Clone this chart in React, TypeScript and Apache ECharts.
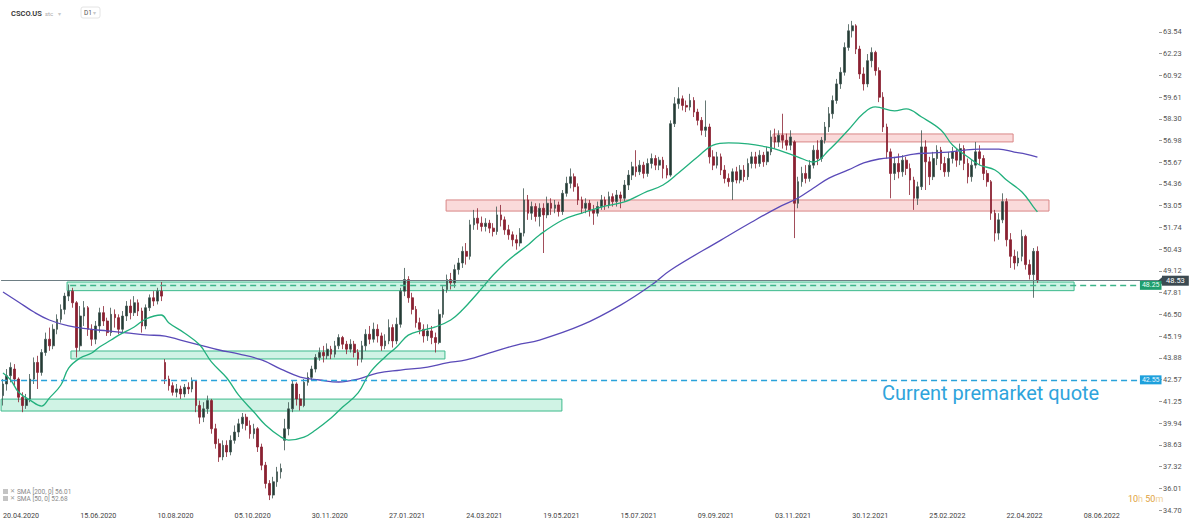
import React, { useEffect, useRef } from "react";
import * as echarts from "echarts";

// ---- data ----
const DATE_LABELS = [
  "20.04.2020", "15.06.2020", "10.08.2020", "05.10.2020", "30.11.2020",
  "27.01.2021", "24.03.2021", "19.05.2021", "15.07.2021", "09.09.2021",
  "03.11.2021", "30.12.2021", "25.02.2022", "22.04.2022", "08.06.2022",
];
const SLOT_COUNT = 300; // candle slots on the axis (incl. empty future)
const LABEL_EVERY = 20;

// [open, close, low, high]
const CANDLES: number[][] = [
  [41.6, 42.3, 41.0, 42.6], [42.3, 42.8, 41.9, 43.2], [42.8, 43.3, 42.4, 43.6], [43.2, 42.6, 42.2, 43.5],
  [42.6, 41.5, 41.2, 42.7], [41.5, 41.0, 40.6, 41.8], [41.0, 41.4, 40.8, 41.7], [41.4, 42.6, 41.2, 42.9],
  [42.6, 43.6, 42.3, 43.9], [43.6, 43.0, 42.0, 44.0], [43.0, 44.2, 42.8, 44.4], [44.2, 45.0, 44.0, 45.4],
  [45.0, 44.6, 44.3, 45.7], [44.6, 45.6, 44.4, 45.9], [45.6, 46.2, 45.3, 46.5], [46.2, 46.8, 46.0, 47.1],
  [46.8, 47.6, 46.5, 47.8], [47.6, 47.9, 47.3, 48.3], [47.9, 47.2, 46.9, 48.1], [47.2, 44.5, 43.9, 47.3],
  [44.6, 46.4, 44.3, 47.0], [46.4, 46.9, 45.8, 47.3], [46.9, 45.6, 45.2, 47.0], [45.6, 45.0, 44.6, 45.9],
  [45.0, 45.8, 44.7, 46.1], [45.8, 46.6, 45.4, 46.9], [46.6, 46.1, 45.8, 47.0], [46.1, 45.4, 45.2, 46.3],
  [45.4, 46.5, 45.2, 46.9], [46.5, 46.3, 45.7, 46.8], [46.3, 45.6, 45.3, 46.5], [45.6, 46.4, 45.4, 46.7],
  [46.4, 47.0, 46.1, 47.3], [47.0, 46.6, 46.2, 47.4], [46.6, 47.2, 46.4, 47.6], [47.2, 46.7, 46.4, 47.4],
  [46.7, 45.8, 45.4, 46.9], [45.8, 46.9, 45.6, 47.1], [46.9, 47.5, 46.7, 47.7], [47.5, 47.3, 47.0, 47.9],
  [47.3, 47.9, 47.1, 48.1], [47.9, 47.6, 47.3, 48.45], [43.6, 42.6, 42.3, 43.8], [42.6, 42.2, 41.9, 42.8],
  [42.2, 41.8, 41.6, 42.4], [41.8, 42.0, 41.5, 42.3], [42.0, 41.7, 41.4, 42.2], [41.7, 42.1, 41.5, 42.3],
  [42.1, 42.0, 41.7, 42.4], [42.0, 42.5, 41.8, 42.7], [42.5, 41.0, 40.6, 42.5], [41.0, 40.3, 39.9, 41.3],
  [40.3, 40.8, 40.0, 41.2], [40.8, 41.3, 40.5, 41.6], [41.3, 39.6, 39.3, 41.4], [39.6, 38.7, 38.4, 39.9],
  [38.7, 37.9, 37.6, 39.0], [37.9, 38.6, 37.7, 38.9], [38.6, 38.2, 37.9, 38.9], [38.2, 38.9, 38.0, 39.2],
  [38.9, 39.4, 38.7, 39.8], [39.4, 39.9, 39.1, 40.2], [39.9, 40.3, 39.6, 40.55], [40.3, 39.8, 39.5, 40.5],
  [39.8, 39.3, 39.0, 40.1], [39.3, 39.6, 39.0, 39.9], [39.6, 38.5, 38.2, 39.7], [38.5, 37.4, 37.1, 38.7],
  [37.4, 36.3, 36.0, 37.6], [36.3, 35.6, 35.3, 36.5], [35.6, 36.4, 35.4, 36.7], [36.4, 37.0, 36.1, 37.3],
  [37.0, 37.2, 36.6, 37.5], [38.9, 39.6, 38.3, 40.2], [39.6, 40.8, 39.2, 41.2], [40.8, 42.3, 40.6, 42.5],
  [42.3, 41.4, 41.0, 42.4], [41.4, 41.0, 40.7, 41.7], [41.0, 42.4, 40.9, 42.6], [42.4, 42.7, 42.2, 43.0],
  [42.7, 43.2, 42.5, 43.4], [43.2, 43.9, 43.0, 44.1], [43.9, 44.2, 43.7, 44.5], [44.2, 44.0, 43.6, 44.6],
  [44.0, 44.4, 43.8, 44.75], [44.4, 44.1, 43.8, 44.6], [44.1, 44.6, 43.9, 44.9], [44.6, 45.1, 44.4, 45.3],
  [45.1, 44.7, 44.4, 45.2], [44.7, 44.4, 44.1, 44.9], [44.4, 44.7, 44.2, 45.0], [44.7, 44.2, 43.9, 44.9],
  [44.2, 43.8, 43.4, 44.4], [43.8, 44.6, 43.6, 44.9], [44.6, 45.3, 44.3, 45.6], [45.3, 45.0, 44.7, 45.8],
  [45.0, 45.6, 44.8, 46.0], [45.6, 45.2, 44.8, 45.9], [45.2, 44.6, 44.3, 45.4], [44.6, 44.9, 44.4, 45.3],
  [44.9, 45.7, 44.7, 46.2], [45.7, 44.9, 44.5, 45.9], [44.9, 45.9, 44.7, 46.3], [45.9, 47.9, 45.7, 48.1],
  [47.9, 48.6, 47.6, 49.3], [48.6, 47.5, 47.2, 48.8], [47.5, 46.8, 46.5, 47.8], [46.8, 46.0, 45.7, 47.0],
  [46.0, 45.6, 45.3, 46.3], [45.6, 45.2, 44.8, 45.9], [45.2, 45.5, 44.9, 45.9], [45.5, 45.1, 44.7, 45.8],
  [45.1, 44.8, 44.2, 45.4], [44.8, 46.5, 44.7, 46.8], [46.5, 48.0, 46.3, 48.2], [48.0, 48.6, 47.8, 48.9],
  [48.6, 48.4, 48.0, 49.0], [48.4, 49.2, 48.1, 49.5], [49.2, 49.6, 48.9, 49.9], [49.6, 50.3, 49.3, 50.6],
  [50.3, 50.0, 49.5, 50.8], [50.0, 51.9, 49.8, 52.2], [51.9, 52.3, 51.6, 52.8], [52.3, 52.0, 51.6, 52.9],
  [52.0, 51.8, 51.5, 52.4], [51.8, 52.0, 51.5, 52.3], [52.0, 51.7, 51.4, 52.2], [51.7, 51.5, 51.2, 52.0],
  [51.5, 52.5, 51.3, 53.0], [52.5, 52.2, 51.8, 53.1], [52.2, 51.6, 51.3, 52.4], [51.6, 51.3, 51.0, 51.9],
  [51.3, 51.0, 50.6, 51.5], [51.0, 50.8, 50.4, 51.3], [50.8, 51.4, 50.6, 51.7], [51.4, 53.4, 51.2, 54.1],
  [53.4, 52.6, 52.2, 53.7], [52.6, 53.0, 52.2, 53.3], [53.0, 52.4, 52.1, 53.2], [52.4, 52.9, 51.8, 53.2],
  [52.9, 52.5, 50.2, 53.2], [52.5, 53.2, 52.3, 53.6], [53.2, 52.9, 52.5, 53.5], [52.9, 53.1, 52.6, 53.4],
  [53.1, 52.7, 52.4, 53.3], [52.7, 53.8, 52.5, 54.0], [53.8, 54.4, 53.6, 54.8], [54.4, 54.8, 54.1, 55.3],
  [54.8, 54.2, 53.9, 55.0], [54.2, 53.4, 53.1, 54.4], [53.4, 52.9, 52.6, 53.6], [52.9, 53.2, 52.6, 53.5],
  [53.2, 52.8, 52.4, 53.4], [52.8, 52.6, 51.9, 53.1], [52.6, 53.0, 52.4, 53.3], [53.0, 53.4, 52.8, 53.7],
  [53.4, 53.1, 52.8, 53.6], [53.1, 53.6, 52.9, 53.9], [53.6, 53.3, 53.0, 53.8], [53.3, 53.7, 53.0, 54.0],
  [53.7, 53.5, 52.9, 53.9], [53.5, 54.3, 53.3, 54.6], [54.3, 54.9, 54.0, 55.2], [54.9, 55.4, 54.6, 55.7],
  [55.4, 55.1, 54.8, 56.4], [55.1, 55.5, 54.9, 55.8], [55.5, 55.0, 54.7, 55.7], [55.0, 55.6, 54.8, 55.9],
  [55.6, 55.9, 55.3, 56.2], [55.9, 55.5, 55.2, 56.1], [55.5, 55.8, 55.2, 56.0], [55.8, 55.3, 54.7, 56.0],
  [55.3, 54.9, 54.7, 55.5], [54.9, 58.0, 54.8, 58.2], [58.0, 59.2, 57.8, 59.6], [59.2, 59.5, 58.9, 60.2],
  [59.5, 59.1, 58.8, 59.7], [59.1, 59.0, 58.7, 59.4], [59.0, 59.4, 58.8, 59.8], [59.4, 58.7, 58.4, 59.6],
  [58.7, 58.2, 57.9, 58.9], [58.2, 57.6, 57.3, 58.4], [57.6, 57.8, 57.2, 59.4], [57.8, 56.0, 55.6, 58.0],
  [56.0, 55.5, 55.2, 56.4], [55.5, 56.0, 55.3, 56.3], [56.0, 55.2, 54.9, 56.2], [55.2, 54.7, 54.4, 55.5],
  [54.7, 54.5, 54.2, 55.0], [54.5, 55.1, 53.4, 55.3], [55.1, 54.6, 54.4, 55.4], [54.6, 55.2, 54.4, 55.5],
  [55.2, 54.8, 54.5, 55.5], [54.8, 55.6, 54.6, 55.9], [55.6, 56.0, 55.3, 56.3], [56.0, 55.6, 55.3, 56.3],
  [55.6, 56.1, 55.4, 56.4], [56.1, 55.7, 55.4, 56.3], [55.7, 56.3, 55.5, 56.6], [56.3, 57.2, 56.1, 57.6],
  [57.2, 56.9, 56.5, 57.7], [56.9, 57.3, 56.6, 57.6], [57.3, 57.0, 56.5, 58.6], [57.0, 56.7, 56.4, 57.4],
  [56.7, 57.2, 56.4, 57.6], [56.9, 53.2, 51.1, 57.0], [53.2, 54.5, 52.9, 54.8], [54.5, 55.0, 54.2, 55.4],
  [55.0, 54.7, 54.4, 55.5], [54.7, 55.5, 54.5, 55.8], [55.5, 56.4, 55.3, 56.7], [56.4, 55.9, 55.5, 57.0],
  [55.9, 57.0, 55.7, 57.2], [57.0, 57.8, 56.8, 58.1], [57.8, 58.6, 57.5, 59.0], [58.6, 59.4, 58.3, 59.7],
  [59.4, 60.4, 59.2, 60.7], [60.4, 61.1, 60.1, 61.4], [61.1, 62.6, 60.9, 62.9], [62.6, 63.6, 62.4, 64.0],
  [63.6, 63.9, 63.2, 64.2], [63.9, 62.5, 62.2, 64.0], [62.5, 61.0, 60.7, 62.7], [61.0, 60.4, 60.0, 61.4],
  [60.4, 61.8, 60.2, 62.2], [61.8, 62.3, 61.4, 62.6], [62.3, 61.2, 60.9, 62.4], [61.2, 59.6, 59.3, 61.4],
  [59.6, 57.8, 57.5, 59.9], [57.8, 56.3, 55.9, 58.0], [56.3, 55.0, 53.5, 56.5], [55.0, 55.6, 54.6, 56.0],
  [55.6, 55.1, 54.7, 56.2], [55.1, 55.8, 54.8, 56.1], [55.8, 55.3, 54.9, 56.0], [55.3, 54.6, 53.7, 55.6],
  [54.6, 53.5, 52.8, 54.8], [53.5, 54.2, 53.1, 54.5], [54.2, 56.6, 54.0, 57.6], [56.6, 55.7, 54.0, 57.0],
  [55.7, 54.8, 54.3, 56.0], [54.8, 55.9, 54.6, 56.3], [55.9, 56.4, 55.5, 56.7], [56.4, 55.6, 55.2, 56.6],
  [55.6, 55.1, 54.8, 56.0], [55.1, 55.9, 54.8, 56.3], [55.9, 56.3, 55.6, 56.6], [56.3, 55.8, 55.4, 56.5],
  [55.8, 56.5, 55.5, 56.8], [56.5, 55.6, 55.2, 56.7], [55.6, 54.8, 54.4, 55.9], [54.8, 55.5, 54.5, 55.8],
  [55.5, 56.3, 55.3, 56.9], [56.3, 55.9, 55.5, 56.7], [55.9, 55.0, 54.6, 56.1], [55.0, 54.5, 54.2, 55.2],
  [54.5, 52.6, 52.2, 54.6], [52.6, 51.4, 50.9, 52.8], [51.4, 52.2, 51.0, 52.6], [52.2, 53.3, 52.0, 53.8],
  [53.3, 51.0, 50.6, 53.5], [51.0, 50.0, 49.3, 51.4], [50.0, 49.6, 49.2, 50.4], [49.6, 49.9, 49.4, 50.3],
  [50.0, 51.2, 49.7, 51.6], [51.2, 49.5, 49.2, 51.3], [49.5, 48.9, 48.6, 49.8], [48.9, 50.3, 47.5, 50.5],
  [50.3, 48.53, 48.4, 50.6],
];

// [slot, value] samples of the moving averages
const SMA50: number[][] = [
  [0, 42.96], [2, 42.54], [4, 41.82], [7, 41.33], [10, 40.97], [12, 41.45], [15, 42.24], [17, 43.26],
  [20, 43.87], [23, 44.17], [25, 44.53], [28, 44.95], [30, 45.25], [34, 45.74], [37, 46.22], [41, 46.46],
  [43, 45.98], [47, 45.38], [51, 44.65], [54, 43.63], [58, 42.66], [61, 41.64], [65, 40.61], [68, 39.83],
  [72, 39.1], [74, 38.92], [78, 39.1], [81, 39.53], [85, 40.25], [88, 40.91], [92, 41.76], [95, 42.96],
  [99, 43.93], [102, 44.53], [105, 45.25], [109, 45.56], [112, 45.74], [116, 46.16], [119, 46.76], [123, 47.79],
  [127, 48.87], [131, 49.78], [136, 50.68], [139, 51.29], [145, 52.19], [150, 52.61], [155, 52.97], [161, 53.28],
  [166, 53.82], [171, 54.3], [175, 55.03], [180, 56.0], [184, 56.71], [188, 56.84], [193, 56.78], [198, 56.59],
  [201, 56.41], [206, 55.99], [210, 55.69], [214, 56.41], [219, 57.62], [223, 58.64], [226, 59.01], [231, 58.77],
  [234, 58.89], [238, 58.4], [243, 57.62], [246, 56.71], [250, 55.99], [253, 55.51], [257, 55.21], [260, 54.6],
  [264, 53.88], [267, 52.97], [268, 52.68],
];
const SMA200: number[][] = [
  [0, 47.85], [4, 47.25], [8, 46.64], [12, 46.16], [17, 45.8], [22, 45.62], [27, 45.5], [32, 45.38],
  [37, 45.26], [42, 45.19], [46, 44.95], [51, 44.65], [56, 44.35], [61, 44.11], [67, 43.75], [72, 43.2],
  [77, 42.72], [82, 42.54], [87, 42.42], [92, 42.6], [97, 42.96], [103, 43.14], [110, 43.32], [115, 43.57],
  [120, 43.75], [127, 44.23], [133, 44.65], [139, 44.95], [150, 45.86], [160, 47.06], [168, 48.27], [173, 49.18],
  [186, 50.98], [194, 52.07], [201, 52.97], [206, 53.52], [210, 54.12], [214, 54.72], [219, 55.21], [223, 55.63],
  [227, 55.87], [232, 55.99], [236, 56.17], [240, 56.23], [245, 56.29], [249, 56.41], [253, 56.47], [258, 56.47],
  [262, 56.29], [265, 56.17], [268, 55.99],
];

// zones: [fromSlot, toSlot, low, high]
const SUPPORT_ZONES: number[][] = [
  [16.6, 277.5, 47.93, 48.45],
  [17.6, 114.5, 43.81, 44.29],
  [-0.5, 144.8, 40.67, 41.39],
];
const RESISTANCE_ZONES: number[][] = [
  [114.8, 271.0, 52.73, 53.4],
  [199.5, 261.7, 56.9, 57.38],
];

const LAST_PRICE = 48.53;
const SUPPORT_LEVEL = 48.25;
const PREMARKET = 42.55;
const SMA200_LAST = "56.01";
const SMA50_LAST = "52.68";

const Y_MIN = 34.7;
const Y_MAX = 64.6;
const Y_STEP = 1.31085;

const FONT = "Roboto, 'Noto Sans', sans-serif";

export default function App() {
  const ref = useRef<HTMLDivElement>(null);

  useEffect(() => {
    if (!ref.current) return;
    const chart = echarts.init(ref.current, undefined, { renderer: "svg" });
    const slots = Array.from({ length: SLOT_COUNT }, (_, i) => String(i));
    const pxPer = 16.58;
    const gridTop = 510 - (Y_MAX - Y_MIN) * pxPer;

    const zoneItems = [
      ...SUPPORT_ZONES.map((z) => [
        {
          xAxis: z[0], yAxis: z[3],
          itemStyle: { color: "rgba(120,220,180,0.35)", borderColor: "#3dba8c", borderWidth: 1 },
        },
        { xAxis: z[1], yAxis: z[2] },
      ]),
      ...RESISTANCE_ZONES.map((z) => [
        {
          xAxis: z[0], yAxis: z[3],
          itemStyle: { color: "rgba(240,150,150,0.35)", borderColor: "#d98686", borderWidth: 1 },
        },
        { xAxis: z[1], yAxis: z[2] },
      ]),
    ];

    chart.setOption({
      animation: false,
      backgroundColor: "#ffffff",
      textStyle: { fontFamily: FONT },
      grid: { left: 1, right: 41, top: gridTop, bottom: 15, containLabel: false },
      xAxis: [
        {
          type: "category",
          data: slots,
          boundaryGap: true,
          axisLine: { show: false, onZero: false },
          axisTick: { show: false },
          splitLine: { show: false },
          axisLabel: {
            interval: (i: number) => i % LABEL_EVERY === 0 && i / LABEL_EVERY < DATE_LABELS.length,
            formatter: (_v: string, i: number) => DATE_LABELS[i / LABEL_EVERY] ?? "",
            align: "left",
            margin: 2,
            fontSize: 7.2,
            color: "#444",
            fontFamily: FONT,
          },
        },
        {
          type: "value",
          min: -0.5,
          max: SLOT_COUNT - 0.5,
          show: false,
          axisLine: { onZero: false },
        },
      ],
      yAxis: [
        {
          type: "value",
          position: "right",
          min: Y_MIN,
          max: Y_MAX,
          interval: Y_STEP,
          scale: true,
          axisLine: { show: false, onZero: false },
          splitLine: { show: false },
          axisTick: { show: true, length: 3, lineStyle: { color: "#9a9a9a" } },
          axisLabel: {
            showMaxLabel: false,
            formatter: (v: number) => v.toFixed(2),
            fontSize: 7.4,
            color: "#555",
            margin: 4,
            fontFamily: FONT,
          },
        },
      ],
      series: [
        {
          type: "candlestick",
          xAxisIndex: 0,
          yAxisIndex: 0,
          data: CANDLES,
          barWidth: "58%",
          itemStyle: {
            color: "#253a34",
            color0: "#8a2131",
            borderColor: "#3f5550",
            borderColor0: "#8a2131",
            borderWidth: 0.8,
          },
          z: 2,
        },
        {
          name: "zones",
          type: "line",
          xAxisIndex: 1,
          yAxisIndex: 0,
          data: [],
          silent: true,
          markArea: { silent: true, data: zoneItems, z: 1 },
          z: 3,
        },
        {
          name: "SMA200",
          type: "line",
          xAxisIndex: 1,
          yAxisIndex: 0,
          data: SMA200,
          smooth: 0.4,
          showSymbol: false,
          lineStyle: { color: "#5a4ab8", width: 1.3 },
          z: 4,
        },
        {
          name: "SMA50",
          type: "line",
          xAxisIndex: 1,
          yAxisIndex: 0,
          data: SMA50,
          smooth: 0.4,
          showSymbol: false,
          lineStyle: { color: "#22b07d", width: 1.3 },
          z: 4,
        },
        {
          name: "levels",
          type: "line",
          xAxisIndex: 1,
          yAxisIndex: 0,
          data: [],
          silent: true,
          z: 6,
          markLine: {
            silent: true,
            symbol: ["none", "none"],
            animation: false,
            data: [
              [
                {
                  coord: [-0.5, LAST_PRICE],
                  lineStyle: { color: "#6e7e84", width: 1, type: "solid" },
                  label: {
                    show: true, position: "end", distance: 3, formatter: LAST_PRICE.toFixed(2),
                    backgroundColor: "#3c4a51", color: "#fff", fontSize: 7.5, padding: [1, 4, 1, 4],
                    fontFamily: FONT,
                  },
                },
                { coord: [SLOT_COUNT - 0.5, LAST_PRICE] },
              ],
              [
                {
                  coord: [17.4, SUPPORT_LEVEL],
                  lineStyle: { color: "#3db58a", width: 1.3, type: [6, 4] },
                  label: {
                    show: true, position: "end", distance: 1, formatter: SUPPORT_LEVEL.toFixed(2),
                    backgroundColor: "#1f9e6e", color: "#e9fff5", fontSize: 7, padding: [1, 2, 1, 2],
                    fontFamily: FONT,
                  },
                },
                { coord: [294.3, SUPPORT_LEVEL] },
              ],
              [
                {
                  coord: [-0.5, PREMARKET],
                  lineStyle: { color: "#2aa2da", width: 1.3, type: [6, 4] },
                  label: {
                    show: true, position: "end", distance: 1, formatter: PREMARKET.toFixed(2),
                    backgroundColor: "#1ea0dc", color: "#eaf7ff", fontSize: 7, padding: [1, 2, 1, 2],
                    fontFamily: FONT,
                  },
                },
                { coord: [294.3, PREMARKET] },
              ],
            ],
          },
          markPoint: {
            silent: true,
            data: [
              {
                coord: [SLOT_COUNT - 0.5, LAST_PRICE],
                symbol: "triangle",
                symbolRotate: 90,
                symbolSize: [7, 4],
                symbolOffset: [1, 0],
                itemStyle: { color: "#3c4a51" },
                label: { show: false },
              },
            ],
          },
        },
      ],
      graphic: [
        { type: "text", left: 11, top: 9, style: { text: "CSCO.US", fontSize: 7.5, fontWeight: 600, fill: "#333", fontFamily: FONT } },
        { type: "text", left: 45, top: 10.5, style: { text: "stc", fontSize: 6, fill: "#aaa", fontFamily: FONT } },
        { type: "text", left: 58, top: 10, style: { text: "▾", fontSize: 6, fill: "#c8c8c8", fontFamily: FONT } },
        { type: "rect", shape: { x: 81, y: 7, width: 19, height: 11, r: 2 }, style: { fill: "none", stroke: "#e4e4e4", lineWidth: 1 } },
        { type: "text", left: 84, top: 9.5, style: { text: "D1", fontSize: 6.5, fill: "#555", fontFamily: FONT } },
        { type: "text", left: 93, top: 10, style: { text: "▾", fontSize: 5.5, fill: "#c8c8c8", fontFamily: FONT } },

        { type: "rect", shape: { x: 3, y: 489, width: 5, height: 5 }, style: { fill: "#c4c4c4" } },
        { type: "text", left: 10, top: 487.5, style: { text: "✕", fontSize: 6, fill: "#999", fontFamily: FONT } },
        { type: "text", left: 17, top: 488, style: { text: `SMA [200, 0] ${SMA200_LAST}`, fontSize: 6.5, fill: "#888", fontFamily: FONT } },
        { type: "rect", shape: { x: 3, y: 496, width: 5, height: 5 }, style: { fill: "#c4c4c4" } },
        { type: "text", left: 10, top: 494.5, style: { text: "✕", fontSize: 6, fill: "#999", fontFamily: FONT } },
        { type: "text", left: 17, top: 495, style: { text: `SMA [50, 0] ${SMA50_LAST}`, fontSize: 6.5, fill: "#888", fontFamily: FONT } },

        { type: "text", left: 882, top: 383, style: { text: "Current premarket quote", fontSize: 20, fill: "#2ea4dc", fontFamily: FONT } },
        {
          type: "text", left: 1128, top: 494,
          style: {
            text: "{a|10}{b|h }{a|50}{b|m}",
            rich: {
              a: { fontSize: 9, fill: "#e0a23c", fontFamily: FONT },
              b: { fontSize: 9, fill: "#f0cf96", fontFamily: FONT },
            },
          },
        },
      ],
    });

    return () => chart.dispose();
  }, []);

  return (
    <div
      ref={ref}
      style={{ position: "fixed", left: 0, top: 0, width: 1200, height: 525, background: "#fff" }}
    />
  );
}
